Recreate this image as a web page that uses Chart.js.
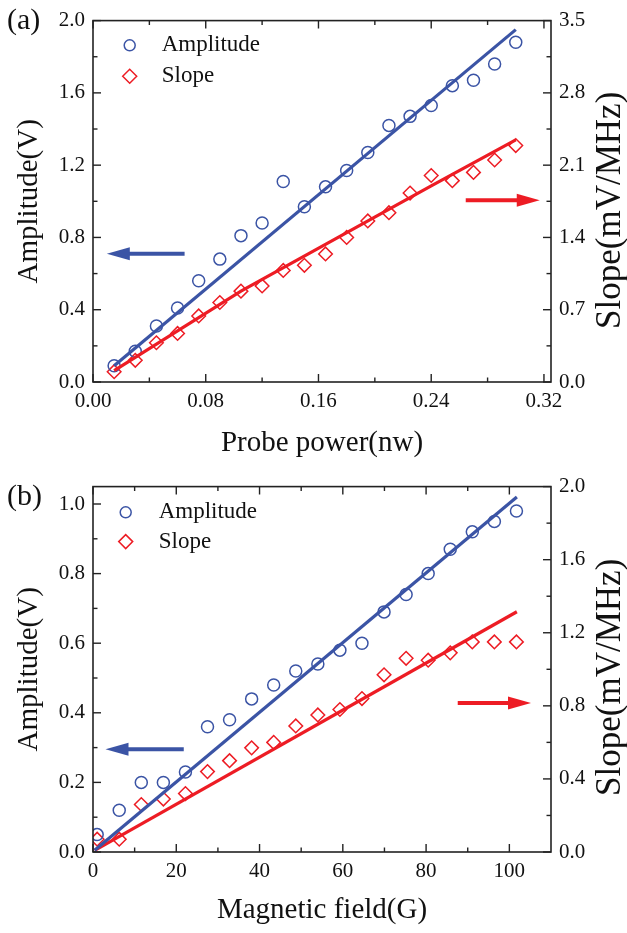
<!DOCTYPE html>
<html>
<head>
<meta charset="utf-8">
<script src="https://cdn.jsdelivr.net/npm/chart.js@4.4.1/dist/chart.umd.min.js"></script>
<style>
  body { margin: 0; background: #fff; }
  .panel { position: relative; width: 627px; }
</style>
</head>
<body>
<div class="panel" style="height:466px"><canvas id="chartA" width="627" height="466"></canvas></div>
<div class="panel" style="height:467px"><canvas id="chartB" width="627" height="467"></canvas></div>
<script>
// (a) probe power sweep
const powerX = [0.015, 0.030, 0.045, 0.060, 0.075, 0.090, 0.105, 0.120, 0.135, 0.150,
                0.165, 0.180, 0.195, 0.210, 0.225, 0.240, 0.255, 0.270, 0.285, 0.300];
const powerAmp = [0.09, 0.17, 0.31, 0.41, 0.56, 0.68, 0.81, 0.88, 1.11, 0.97,
                  1.08, 1.17, 1.27, 1.42, 1.47, 1.53, 1.64, 1.67, 1.76, 1.88];
const powerSlope = [0.10, 0.21, 0.38, 0.47, 0.64, 0.77, 0.88, 0.93, 1.08, 1.13,
                    1.24, 1.40, 1.56, 1.64, 1.83, 2.00, 1.95, 2.03, 2.15, 2.29];
const powerAmpFitX = [0.015, 0.300];
const powerAmpFit = [0.09, 1.95];
const powerSlopeFitX = [0.015, 0.105, 0.240, 0.300];
const powerSlopeFit = [0.11, 0.88, 1.90, 2.345];

// (b) magnetic field sweep
const fieldX = [1.0, 6.3, 11.6, 16.9, 22.2, 27.5, 32.8, 38.1, 43.4, 48.7,
                54.0, 59.3, 64.6, 69.9, 75.2, 80.5, 85.8, 91.1, 96.4, 101.7];
const fieldAmp = [0.05, 0.12, 0.20, 0.20, 0.23, 0.36, 0.38, 0.44, 0.48, 0.52,
                  0.54, 0.58, 0.60, 0.69, 0.74, 0.80, 0.87, 0.92, 0.95, 0.98];
const fieldSlope = [0.07, 0.07, 0.26, 0.29, 0.32, 0.44, 0.50, 0.57, 0.60, 0.69,
                    0.75, 0.78, 0.84, 0.97, 1.06, 1.05, 1.09, 1.15, 1.15, 1.15];
const fieldAmpFitX = [0.4, 101.8];
const fieldAmpFit = [0.005, 1.02];
const fieldSlopeFitX = [0.4, 101.8];
const fieldSlopeFit = [0.009, 1.315];

const BLUE = '#3b54a5';
const RED = '#ed1c24';
const INK = '#111';
const SERIF = "'Liberation Serif', 'Times New Roman', serif";

Chart.defaults.font.family = SERIF;
Chart.defaults.color = INK;

function pts(xs, ys) {
  return xs.map((x, i) => ({ x: x, y: ys[i] }));
}

// frame with inward ticks, arrows, legend, right title, panel tag
const decorPlugin = {
  id: 'decor',
  afterDraw(chart, args, o) {
    const { ctx, chartArea: a, scales } = chart;
    ctx.save();
    ctx.strokeStyle = '#222';
    ctx.lineWidth = 1.6;
    ctx.strokeRect(a.left, a.top, a.width, a.height);

    function tickVals(scale) {
      const major = scale.ticks.map(t => t.value);
      const step = major[1] - major[0];
      const minor = [];
      for (let v = major[0] + step / 2; v < scale.max - 1e-9; v += step) minor.push(v);
      return { major, minor };
    }
    function xTicks(list, len) {
      list.forEach(v => {
        const px = scales.x.getPixelForValue(v);
        ctx.beginPath();
        ctx.moveTo(px, a.bottom); ctx.lineTo(px, a.bottom - len);
        ctx.moveTo(px, a.top); ctx.lineTo(px, a.top + len);
        ctx.stroke();
      });
    }
    function yTicks(scale, list, len, side) {
      list.forEach(v => {
        const py = scale.getPixelForValue(v);
        const x0 = side === 'left' ? a.left : a.right;
        const d = side === 'left' ? len : -len;
        ctx.beginPath();
        ctx.moveTo(x0, py); ctx.lineTo(x0 + d, py);
        ctx.stroke();
      });
    }
    const tx = tickVals(scales.x), ty = tickVals(scales.y), ty2 = tickVals(scales.y2);
    ctx.lineWidth = 1.4;
    xTicks(tx.major, 8); xTicks(tx.minor, 4.5);
    yTicks(scales.y, ty.major, 8, 'left'); yTicks(scales.y, ty.minor, 4.5, 'left');
    yTicks(scales.y2, ty2.major, 8, 'right'); yTicks(scales.y2, ty2.minor, 4.5, 'right');

    // arrows pointing to the matching axis
    o.arrows.forEach(ar => {
      const x0 = scales.x.getPixelForValue(ar.from);
      const x1 = scales.x.getPixelForValue(ar.to);
      const y = scales[ar.axis].getPixelForValue(ar.at);
      const dir = Math.sign(x1 - x0);
      ctx.strokeStyle = ar.color;
      ctx.fillStyle = ar.color;
      ctx.lineWidth = 4;
      ctx.beginPath();
      ctx.moveTo(x0, y); ctx.lineTo(x1 - dir * 18, y);
      ctx.stroke();
      ctx.beginPath();
      ctx.moveTo(x1, y);
      ctx.lineTo(x1 - dir * 23, y - 6.5);
      ctx.lineTo(x1 - dir * 23, y + 6.5);
      ctx.closePath();
      ctx.fill();
    });

    // legend
    ctx.font = '23px ' + SERIF;
    ctx.textBaseline = 'middle';
    ctx.textAlign = 'left';
    chart.data.datasets.filter(d => d.inLegend).forEach((d, i) => {
      const cx = a.left + o.legend.x;
      const cy = a.top + o.legend.y + i * o.legend.gap;
      ctx.strokeStyle = d.borderColor;
      ctx.fillStyle = 'rgba(0,0,0,0)';
      ctx.lineWidth = 1.5;
      Chart.helpers.drawPoint(ctx, { pointStyle: d.pointStyle, radius: d.pointStyle === 'circle' ? 5.5 : 7, borderWidth: 1.5 }, cx, cy);
      ctx.fillStyle = INK;
      ctx.fillText(d.label, cx + o.legend.textDx, cy);
    });

    // right axis title, reading bottom to top like the left one
    const rt = scales.y2.options.title;
    ctx.save();
    ctx.translate(chart.width - o.rightTitleDx, (a.top + a.bottom) / 2 + o.rightTitleDy);
    ctx.rotate(-Math.PI / 2);
    ctx.font = rt.font.size + 'px ' + SERIF;
    ctx.textAlign = 'center';
    ctx.fillStyle = INK;
    ctx.fillText(rt.text, 0, 0);
    ctx.restore();

    ctx.font = '30px ' + SERIF;
    ctx.textAlign = 'left';
    ctx.fillStyle = INK;
    ctx.fillText(o.tag, 7, o.tagY);
    ctx.restore();
  }
};

function buildChart(id, p) {
  return new Chart(document.getElementById(id), {
    type: 'scatter',
    data: {
      datasets: [
        { label: 'Amplitude fit', data: pts(p.ampFitX, p.ampFit), showLine: true, borderColor: BLUE,
          borderWidth: 3.2, pointRadius: 0, yAxisID: 'y' },
        { label: 'Slope fit', data: pts(p.slopeFitX, p.slopeFit), showLine: true, borderColor: RED,
          borderWidth: 3.2, pointRadius: 0, yAxisID: 'y2' },
        { label: 'Amplitude', data: pts(p.x, p.amp), pointStyle: 'circle', pointRadius: 6,
          borderColor: BLUE, backgroundColor: 'rgba(0,0,0,0)', pointBorderWidth: 1.5, yAxisID: 'y', inLegend: true },
        { label: 'Slope', data: pts(p.x, p.slope), pointStyle: 'rectRot', pointRadius: 6.8,
          borderColor: RED, backgroundColor: 'rgba(0,0,0,0)', pointBorderWidth: 1.5, yAxisID: 'y2', inLegend: true }
      ]
    },
    options: {
      responsive: false,
      animation: false,
      events: [],
      layout: { padding: { top: p.padTop, left: 0, right: 0, bottom: 0 } },
      plugins: {
        legend: { display: false },
        tooltip: { enabled: false },
        decor: p.decor
      },
      scales: {
        x: {
          type: 'linear', min: 0, max: p.xMax,
          grid: { display: false, drawTicks: false }, border: { display: false },
          ticks: { stepSize: p.xStep, includeBounds: false, padding: 7, font: { size: 21 },
                   callback: v => v.toFixed(p.xDec) },
          title: { display: true, text: p.xTitle, font: { size: 29 }, padding: { top: 0, bottom: 5 } },
          afterFit: s => { s.height = p.xH; }
        },
        y: {
          position: 'left', min: 0, max: p.yMax,
          grid: { display: false, drawTicks: false }, border: { display: false },
          ticks: { stepSize: p.yStep, includeBounds: false, padding: 8, font: { size: 21 },
                   callback: v => v.toFixed(1) },
          title: { display: true, text: 'Amplitude(V)', font: { size: 29 }, padding: { top: 12 } },
          afterFit: s => { s.width = 93; }
        },
        y2: {
          position: 'right', min: 0, max: p.y2Max,
          grid: { display: false, drawTicks: false }, border: { display: false },
          ticks: { stepSize: p.y2Step, includeBounds: false, padding: 8, font: { size: 21 },
                   callback: v => v.toFixed(1) },
          // drawn by the decor plugin so it reads upward
          title: { display: false, text: 'Slope(mV/MHz)', font: { size: 35 } },
          afterFit: s => { s.width = 76; }
        }
      }
    },
    plugins: [decorPlugin]
  });
}

buildChart('chartA', {
  x: powerX, amp: powerAmp, slope: powerSlope,
  ampFitX: powerAmpFitX, ampFit: powerAmpFit, slopeFitX: powerSlopeFitX, slopeFit: powerSlopeFit,
  xMax: 0.325, xStep: 0.08, xDec: 2, xTitle: 'Probe power(nw)',
  yMax: 2.0, yStep: 0.4, y2Max: 3.5, y2Step: 0.7,
  padTop: 16, xH: 84,
  decor: {
    tag: '(a)', tagY: 21,
    rightTitleDx: 16, rightTitleDy: 9,
    legend: { x: 36.7, y: 24.7, gap: 31, textDx: 32 },
    arrows: [
      { axis: 'y', from: 0.065, to: 0.0098, at: 0.71, color: BLUE },
      { axis: 'y2', from: 0.2645, to: 0.317, at: 1.76, color: RED }
    ]
  }
});

buildChart('chartB', {
  x: fieldX, amp: fieldAmp, slope: fieldSlope,
  ampFitX: fieldAmpFitX, ampFit: fieldAmpFit, slopeFitX: fieldSlopeFitX, slopeFit: fieldSlopeFit,
  xMax: 110, xStep: 20, xDec: 0, xTitle: 'Magnetic field(G)',
  yMax: 1.05, yStep: 0.2, y2Max: 2.0, y2Step: 0.4,
  padTop: 20, xH: 81,
  decor: {
    tag: '(b)', tagY: 31,
    rightTitleDx: 16, rightTitleDy: 8,
    legend: { x: 32.7, y: 25.7, gap: 29.3, textDx: 33 },
    arrows: [
      { axis: 'y', from: 21.8, to: 3.0, at: 0.295, color: BLUE },
      { axis: 'y2', from: 87.6, to: 105.2, at: 0.815, color: RED }
    ]
  }
});
</script>
</body>
</html>
